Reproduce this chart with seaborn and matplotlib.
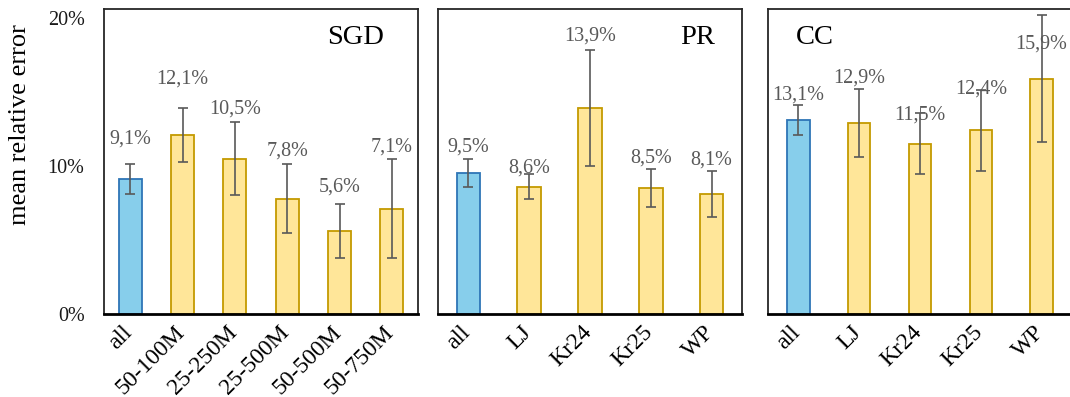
import matplotlib
matplotlib.use("Agg")
import matplotlib.pyplot as plt
import matplotlib.transforms as mtransforms
import seaborn as sns
import pandas as pd

# Mean relative error (%) per workload, with symmetric error-bar half widths
sgd_labels = ["all", "50-100M", "25-250M", "25-500M", "50-500M", "50-750M"]
sgd_values = [9.1, 12.1, 10.5, 7.8, 5.6, 7.1]
sgd_errors = [1.0, 1.8, 2.45, 2.3, 1.8, 3.35]

pr_labels = ["all", "LJ", "Kr24", "Kr25", "WP"]
pr_values = [9.5, 8.6, 13.9, 8.5, 8.1]
pr_errors = [0.95, 0.85, 3.9, 1.3, 1.55]

cc_labels = ["all", "LJ", "Kr24", "Kr25", "WP"]
cc_values = [13.1, 12.9, 11.5, 12.4, 15.9]
cc_errors = [1.0, 2.3, 2.05, 2.75, 4.3]

panel_titles = ["SGD", "PR", "CC"]
y_ticks = [0, 10, 20]

# Vertical lift of each value label above its bar top, in pixels
sgd_lift = [40, 56, 49, 47, 44, 62]
pr_lift = [26, 19, 72, 30, 34]
cc_lift = [25, 45, 29, 41, 35]

sns.set_theme(style="white")
plt.rcParams["font.family"] = ["Liberation Serif", "DejaVu Serif"]

BLUE_FILL, BLUE_EDGE = "#87CEEB", "#2E75B6"
YEL_FILL, YEL_EDGE = "#FFE699", "#C49A00"
ERR_COLOR = "#595959"
LABEL_COLOR = "#595959"

W, H = 1070, 397
fig = plt.figure(figsize=(W / 100, H / 100), dpi=100)


def px_axes(left, top, right, bottom):
    return fig.add_axes([left / W, 1 - bottom / H, (right - left) / W, (bottom - top) / H])


panels = [
    (px_axes(104, 9, 418, 314), sgd_labels, sgd_values, sgd_errors, sgd_lift, 0.44, (356, 38), True),
    (px_axes(438, 9, 742, 314), pr_labels, pr_values, pr_errors, pr_lift, 0.39, (698, 38), False),
    (px_axes(768, 9, 1072, 314), cc_labels, cc_values, cc_errors, cc_lift, 0.37, (815, 38), False),
]

# nudge rotated category labels slightly left
label_shift = mtransforms.ScaledTranslation(-1 / 100, 0, fig.dpi_scale_trans)

for (ax, labels, values, errors, lifts, bw, title_xy, show_y), title in zip(panels, panel_titles):
    df = pd.DataFrame({
        "workload": labels,
        "error": values,
        "kind": ["all" if l == "all" else "subset" for l in labels],
    })
    sns.barplot(data=df, x="workload", y="error", hue="kind",
                palette={"all": BLUE_FILL, "subset": YEL_FILL}, saturation=1,
                dodge=False, width=bw, legend=False, errorbar=None, ax=ax)
    for p in ax.patches:
        fc = matplotlib.colors.to_hex(p.get_facecolor())
        p.set_edgecolor(BLUE_EDGE if fc.lower() == BLUE_FILL.lower() else YEL_EDGE)
        p.set_linewidth(1.3)

    xs = list(range(len(labels)))
    ax.errorbar(xs, values, yerr=errors, fmt="none", ecolor=ERR_COLOR,
                elinewidth=1.2, capsize=3.5, capthick=1.2, zorder=5)

    for x, v, lift in zip(xs, values, lifts):
        ax.annotate(f"{v:.1f}".replace(".", ",") + "%", xy=(x, v), xytext=(0, lift),
                    textcoords="offset pixels", ha="center", va="center",
                    fontsize=14.5, color=LABEL_COLOR, zorder=6)

    ax.set_xlim(-0.5, len(labels) - 0.5)
    ax.set_ylim(0, 20.6)
    ax.set_yticks(y_ticks)
    if show_y:
        ax.set_yticklabels([f"{t}%" for t in y_ticks], fontsize=14.5, color="#1a1a1a")
    else:
        ax.set_yticklabels([])
    ax.tick_params(axis="y", length=0, pad=14)
    ax.tick_params(axis="x", length=0, pad=11)
    ax.set_xticks(xs)
    ax.set_xticklabels(labels, rotation=45, ha="right", va="center",
                       rotation_mode="anchor", fontsize=17, color="black")
    for lbl in ax.get_xticklabels():
        lbl.set_transform(lbl.get_transform() + label_shift)
    ax.set_xlabel("")
    ax.set_ylabel("")
    for side, spine in ax.spines.items():
        spine.set_visible(True)
        spine.set_color("black" if side == "bottom" else "#262626")
        spine.set_linewidth(2.0 if side == "bottom" else 1.3)

    fig.text(title_xy[0] / W, 1 - title_xy[1] / H, title, ha="center", va="center",
             fontsize=20.5, color="black")

fig.text(20 / W, 1 - 125 / H, "mean relative error", rotation=90,
         ha="center", va="center", fontsize=19, color="black")

fig.savefig("out.png", dpi=100)
